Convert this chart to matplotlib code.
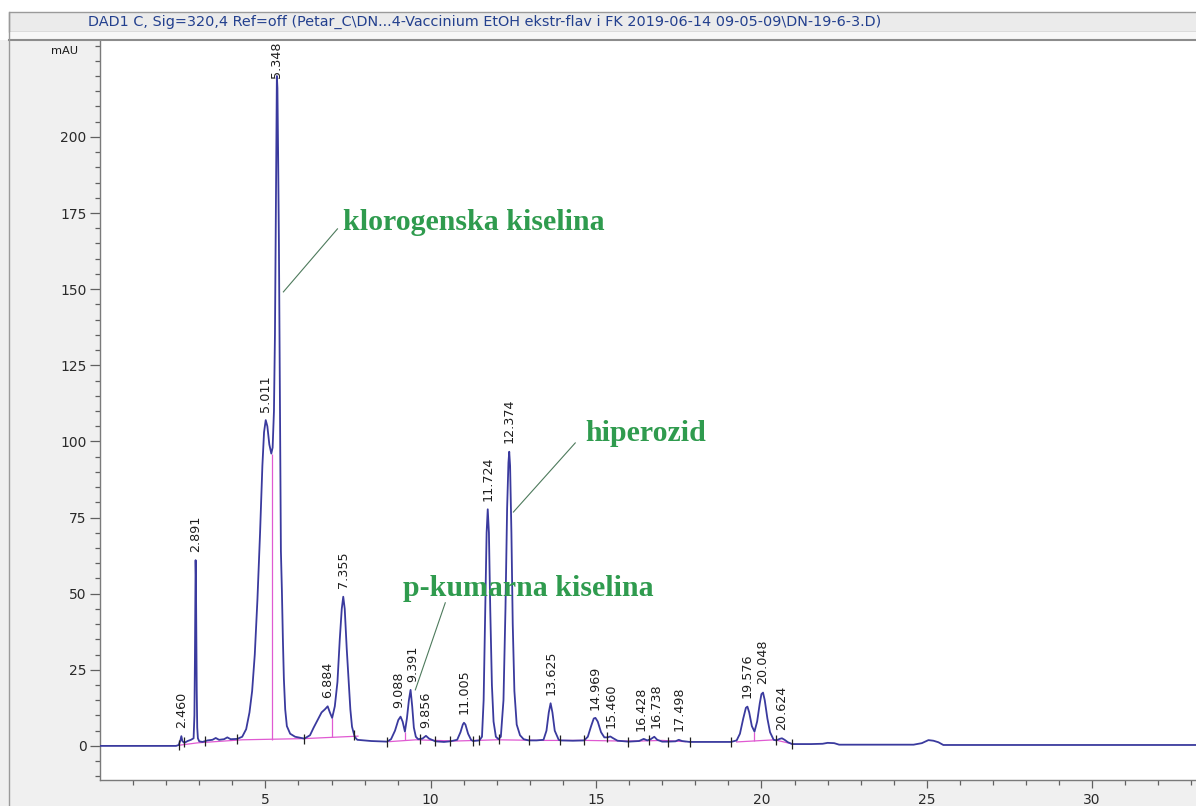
import numpy as np
import matplotlib
matplotlib.use("Agg")
import matplotlib.pyplot as plt
from matplotlib.patches import Rectangle
from matplotlib.lines import Line2D
from matplotlib.ticker import FixedLocator, NullFormatter

# ---------------- data ----------------
title_text = ("DAD1 C, Sig=320,4 Ref=off (Petar_C\\DN...4-Vaccinium EtOH ekstr-flav i FK "
              "2019-06-14 09-05-09\\DN-19-6-3.D)")
y_unit = "mAU"

# signal trace: retention time (min) and absorbance (mAU)
trace_time = [0.0, 2.30, 2.38, 2.43, 2.46, 2.49, 2.55, 2.65, 2.75, 2.83, 2.855, 2.87, 2.882,
              2.891, 2.90, 2.91, 2.925, 2.94, 2.96, 3.00, 3.10, 3.25, 3.40, 3.50, 3.60, 3.75,
              3.85, 3.95, 4.15, 4.30, 4.42, 4.52, 4.60, 4.68, 4.76, 4.84, 4.91, 4.96, 5.011,
              5.06, 5.12, 5.18, 5.22, 5.26, 5.29, 5.31, 5.33, 5.348, 5.365, 5.385, 5.41, 5.43,
              5.45, 5.47, 5.50, 5.53, 5.56, 5.60, 5.65, 5.75, 5.90, 6.18, 6.35, 6.46, 6.58,
              6.70, 6.80, 6.884, 6.95, 7.02, 7.10, 7.18, 7.25, 7.31, 7.355, 7.40, 7.46, 7.52,
              7.57, 7.62, 7.70, 7.78, 8.20, 8.68, 8.80, 8.92, 9.02, 9.088, 9.15, 9.22, 9.28,
              9.34, 9.391, 9.44, 9.49, 9.55, 9.62, 9.75, 9.856, 9.95, 10.14, 10.40, 10.59,
              10.80, 10.90, 10.97, 11.005, 11.05, 11.13, 11.22, 11.28, 11.47, 11.55, 11.60,
              11.65, 11.69, 11.724, 11.76, 11.80, 11.85, 11.90, 11.97, 12.05, 12.12, 12.20,
              12.26, 12.31, 12.35, 12.374, 12.40, 12.44, 12.48, 12.53, 12.60, 12.70, 12.81,
              12.96, 13.20, 13.41, 13.50, 13.57, 13.625, 13.68, 13.75, 13.87, 13.92, 14.30,
              14.64, 14.75, 14.85, 14.93, 14.98, 15.05, 15.15, 15.25, 15.35, 15.43, 15.52,
              15.65, 15.98, 16.30, 16.44, 16.55, 16.65, 16.76, 16.85, 17.00, 17.16, 17.40,
              17.50, 17.60, 17.83, 18.50, 19.08, 19.25, 19.35, 19.45, 19.53, 19.576, 19.63,
              19.71, 19.79, 19.87, 19.95, 20.00, 20.048, 20.10, 20.18, 20.26, 20.37, 20.45,
              20.55, 20.62, 20.70, 20.80, 20.93, 21.50, 21.85, 22.00, 22.20, 22.35, 24.60,
              24.85, 25.05, 25.20, 25.35, 25.50, 33.20]
trace_mau = [0.0, 0.0, 0.3, 1.8, 3.2, 1.6, 1.0, 1.6, 2.0, 2.5, 10.0, 28.0, 50.0,
             61.0, 56.0, 40.0, 18.0, 6.0, 2.5, 1.5, 1.3, 1.8, 2.0, 2.6, 2.0, 2.2,
             2.8, 2.2, 2.3, 3.0, 5.5, 11.0, 18.0, 30.0, 48.0, 70.0, 92.0, 103.0, 107.0,
             105.0, 99.0, 96.0, 98.0, 110.0, 135.0, 165.0, 200.0, 220.0, 216.0, 195.0, 165.0, 130.0,
             90.0, 64.0, 51.0, 35.0, 22.0, 12.0, 6.5, 4.0, 3.0, 2.4, 3.5, 6.0, 8.5,
             11.0, 12.0, 13.0, 11.0, 9.2, 13.0, 21.0, 35.0, 45.0, 49.0, 45.0, 32.0, 21.0,
             12.0, 6.3, 3.0, 2.0, 1.6, 1.4, 2.2, 5.0, 8.5, 9.6, 8.0, 4.7, 9.0,
             15.0, 18.4, 13.0, 6.0, 3.0, 2.2, 2.4, 3.3, 2.4, 1.5, 1.3, 1.5,
             2.0, 4.5, 7.0, 7.6, 7.0, 4.0, 2.0, 1.6, 1.8, 3.0, 15.0,
             45.0, 70.0, 77.7, 70.0, 45.0, 20.0, 8.0, 3.0, 2.2, 3.0, 15.0,
             45.0, 78.0, 93.0, 96.6, 92.0, 70.0, 40.0, 18.0, 7.0, 3.5, 2.2,
             1.8, 1.8, 2.0, 5.0, 11.0, 14.0, 11.0, 5.0, 2.0, 1.8, 1.7,
             1.8, 3.0, 6.5, 9.0, 9.2, 8.0, 4.5, 2.8, 2.8, 3.1, 2.5,
             1.7, 1.4, 1.6, 2.3, 1.8, 2.2, 3.0, 2.0, 1.4, 1.4, 1.5,
             2.0, 1.6, 1.3, 1.3, 1.3, 1.8, 4.0, 9.0, 12.5, 12.9, 11.0,
             6.5, 4.7, 8.0, 14.0, 17.0, 17.5, 15.0, 9.0, 4.5, 2.0, 1.8,
             2.3, 2.5, 2.0, 1.2, 0.6, 0.6, 0.7, 1.0, 0.9, 0.4, 0.4,
             0.9, 1.9, 1.7, 1.2, 0.3, 0.3]

# integration baseline (NaN separates segments)
baseline_time = [2.38, 2.95, 4.30, 6.18, 7.80, np.nan, 8.75, 9.55, 10.75, 12.00, 13.40,
                 14.70, 15.75, 16.30, 17.00, 17.70, np.nan, 19.25, 20.40, 20.95]
baseline_mau = [0.2, 1.0, 2.0, 2.4, 3.2, np.nan, 1.4, 2.0, 1.6, 2.0, 1.8,
                1.8, 1.6, 1.6, 1.8, 1.4, np.nan, 1.3, 2.0, 0.6]

# peak drop lines (time, lower mAU, upper mAU)
drop_time = [5.20, 7.02, 9.22, 19.79]
drop_low = [2.1, 3.0, 1.9, 1.6]
drop_high = [96.0, 9.2, 4.7, 4.7]

# integration event marks
event_time = [2.38, 2.53, 3.18, 4.14, 6.18, 7.67, 8.68, 9.67, 10.14, 10.59, 11.28, 11.47,
              12.05, 12.96, 13.92, 14.64, 15.33, 15.98, 16.59, 17.16, 17.83, 19.08, 20.45, 20.92]
event_mau = [0.3, 1.2, 1.5, 2.3, 2.4, 3.5, 1.4, 2.2, 1.5, 1.5, 1.6, 1.8,
             2.2, 1.8, 1.8, 1.8, 2.8, 1.4, 1.8, 1.4, 1.3, 1.3, 1.8, 0.6]

# peak table
peak_rt = [2.460, 2.891, 5.011, 5.348, 6.884, 7.355, 9.088, 9.391, 9.856, 11.005, 11.724,
           12.374, 13.625, 14.969, 15.460, 16.428, 16.738, 17.498, 19.576, 20.048, 20.624]
peak_height = [3.2, 61.0, 107.0, 220.0, 13.0, 49.0, 9.6, 18.4, 3.3, 7.6, 77.7,
               96.6, 14.0, 9.2, 3.1, 2.3, 3.0, 2.0, 12.9, 17.5, 2.5]
peak_label = ["2.460", "2.891", "5.011", "5.348", "6.884", "7.355", "9.088", "9.391", "9.856",
              "11.005", "11.724", "12.374", "13.625", "14.969", "15.460", "16.428", "16.738",
              "17.498", "19.576", "20.048", "20.624"]

# identified compounds
compound_name = ["klorogenska kiselina", "hiperozid", "p-kumarna kiselina"]

x_major = [5, 10, 15, 20, 25, 30]
x_minor = [1, 2, 3, 4, 6, 7, 8, 9, 11, 12, 13, 14, 16, 17, 18, 19, 21, 22, 23, 24,
           26, 27, 28, 29, 31, 32, 33]
y_major = [0, 25, 50, 75, 100, 125, 150, 175, 200]
y_minor = [-10, -5, 5, 10, 15, 20, 30, 35, 40, 45, 55, 60, 65, 70, 80, 85, 90, 95, 105, 110,
           115, 120, 130, 135, 140, 145, 155, 160, 165, 170, 180, 185, 190, 195, 205, 210,
           215, 220, 225, 230]

# ---------------- layout ----------------
W, H = 1196, 806
fig = plt.figure(figsize=(W / 100, H / 100), dpi=100)
fig.patch.set_facecolor("white")


def fx(px):
    return px / W


def fy(py):
    return 1 - py / H


# gray window background
fig.add_artist(Rectangle((0, 0), 1, fy(40), transform=fig.transFigure,
                         facecolor="#f0f0f0", edgecolor="none", zorder=-5))
# title bar
fig.add_artist(Rectangle((fx(9), fy(32)), 1, fy(12) - fy(32), transform=fig.transFigure,
                         facecolor="#ebebeb", edgecolor="#9a9a9a", lw=1.0, zorder=-4))
fig.add_artist(Rectangle((fx(9), fy(39)), 1, fy(32) - fy(39), transform=fig.transFigure,
                         facecolor="#f7f7f7", edgecolor="none", zorder=-4))
fig.add_artist(Line2D([fx(9), 1], [fy(39.5), fy(39.5)], transform=fig.transFigure,
                      color="#8c8c8c", lw=1.5, zorder=3))
fig.add_artist(Line2D([fx(9), fx(9)], [0, fy(12)], transform=fig.transFigure,
                      color="#9a9a9a", lw=1.0, zorder=3))

ttl = fig.text(fx(88), fy(22), title_text, ha="left", va="center", color="#23408e",
               fontsize=8.2, family="DejaVu Sans")

ax = fig.add_axes([fx(100), fy(780), 1 - fx(100), fy(41) - fy(780)])
ax.set_facecolor("white")
ax.set_xlim(0, 33.14)
ax.set_ylim(-11.2, 231.5)
for s in ("top", "right"):
    ax.spines[s].set_visible(False)
for s in ("left", "bottom"):
    ax.spines[s].set_color("#7a7a7a")
    ax.spines[s].set_linewidth(1.0)

ax.xaxis.set_major_locator(FixedLocator(x_major))
ax.xaxis.set_minor_locator(FixedLocator(x_minor))
ax.yaxis.set_major_locator(FixedLocator(y_major))
ax.yaxis.set_minor_locator(FixedLocator(y_minor))
ax.xaxis.set_minor_formatter(NullFormatter())
ax.yaxis.set_minor_formatter(NullFormatter())
ax.tick_params(axis="x", which="major", length=5.8, width=0.9, color="#606060", pad=3.6,
               labelsize=10, labelcolor="#2a2a2a")
ax.tick_params(axis="x", which="minor", length=3.6, width=0.9, color="#606060")
ax.tick_params(axis="y", which="major", length=7.2, width=0.9, color="#606060", pad=2.6,
               labelsize=10, labelcolor="#2a2a2a")
ax.tick_params(axis="y", which="minor", length=3.6, width=0.9, color="#606060")

fig.text(fx(78), fy(51), y_unit, ha="right", va="center", fontsize=8.2, color="#1a1a1a")

# baseline + drop lines
ax.plot(baseline_time, baseline_mau, color="#e05ad2", lw=0.9, zorder=2)
ax.vlines(drop_time, drop_low, drop_high, color="#e05ad2", lw=0.9, zorder=2)
# trace
ax.plot(trace_time, trace_mau, color="#3a3a9e", lw=1.3, zorder=3, clip_on=True)
# events
ax.plot(event_time, event_mau, ls="none", marker="|", ms=7, mew=0.9, color="#202020", zorder=4)

fig.canvas.draw()
renderer = fig.canvas.get_renderer()

# fit title to the reference width (x 88 .. 878 px)
tw = ttl.get_window_extent(renderer).width
ttl.set_fontsize(8.2 * 790.0 / tw)

# peak labels (rotated, just above each apex); keep inside the plot and apart
ax_top_px = ax.get_window_extent().y1
pt_per_px = 72.0 / fig.dpi
labels = []
for rt, h, lbl in zip(peak_rt, peak_height, peak_label):
    t = ax.annotate(lbl, xy=(rt, h), xytext=(0, 6), textcoords="offset points",
                    rotation=90, ha="center", va="bottom", fontsize=9.2,
                    color="#1e1e1e", family="DejaVu Sans", zorder=5)
    bb = t.get_window_extent(renderer)
    dy = 6.0
    if bb.y1 > ax_top_px - 1:
        dy = 6.0 - (bb.y1 - (ax_top_px - 1)) * pt_per_px
        t.set_position((0, dy))
    labels.append([t, 0.0, dy])

for i in range(1, len(labels)):
    prev, cur = labels[i - 1], labels[i]
    b0 = prev[0].get_window_extent(renderer)
    b1 = cur[0].get_window_extent(renderer)
    vert = min(b0.y1, b1.y1) - max(b0.y0, b1.y0)
    horiz = b0.x1 - b1.x0
    if vert > 0 and horiz > -1:
        half = (horiz + 1.5) / 2.0 * pt_per_px
        prev[1] -= half
        cur[1] += half
        prev[0].set_position((prev[1], prev[2]))
        cur[0].set_position((cur[1], cur[2]))

# compound annotations: (text x, text y) in data coords and leader line onto the peak
green = "#2f9b4e"
ann_text_xy = [(7.36, 172.0), (14.68, 102.5), (9.17, 51.6)]
ann_line_start = [(7.18, 169.8), (14.37, 99.5), (10.44, 47.0)]
ann_line_end = [(5.545, 149.1), (12.50, 76.8), (9.535, 18.4)]
for name, txy, ls, le in zip(compound_name, ann_text_xy, ann_line_start, ann_line_end):
    ax.text(txy[0], txy[1], name, ha="left", va="center", fontsize=21.5,
            fontweight="bold", family="Liberation Serif", color=green, zorder=6)
    ax.plot([ls[0], le[0]], [ls[1], le[1]], color="#4d7a5c", lw=0.8, zorder=6)

fig.savefig("out.png", dpi=100, facecolor=fig.get_facecolor())
